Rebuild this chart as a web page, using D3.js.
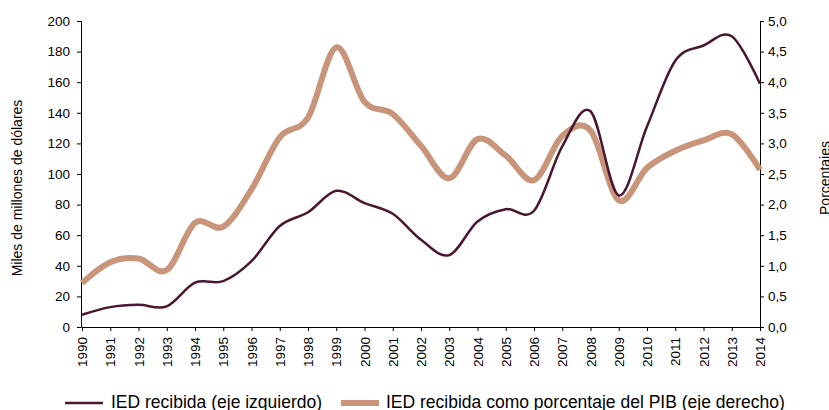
<!DOCTYPE html>
<html>
<head>
<meta charset="utf-8">
<script src="https://cdn.jsdelivr.net/npm/d3@7"></script>
<style>
  body { margin: 0; background: #fff; }
  svg { display: block; font-family: "Liberation Sans", Arial, sans-serif; }
</style>
</head>
<body>
<div id="chart"></div>
<script>
// data
const years = ["1990","1991","1992","1993","1994","1995","1996","1997","1998","1999","2000","2001","2002",
  "2003","2004","2005","2006","2007","2008","2009","2010","2011","2012","2013","2014"];
const iedLeft = [8, 13, 14.5, 13.5, 29, 30, 43, 66, 75, 89, 81, 74, 57, 47, 69, 77, 76, 118, 141, 86, 131, 174, 184, 190, 159];
const iedPct = [0.72, 1.06, 1.12, 0.93, 1.7, 1.64, 2.25, 3.1, 3.42, 4.57, 3.68, 3.48, 2.96, 2.43, 3.07, 2.8, 2.4, 3.12, 3.21, 2.07, 2.6, 2.88, 3.05, 3.15, 2.57];
const leftTicks = [0, 20, 40, 60, 80, 100, 120, 140, 160, 180, 200];
const rightTicks = [0, 0.5, 1, 1.5, 2, 2.5, 3, 3.5, 4, 4.5, 5];
const legendLabels = ["IED recibida (eje izquierdo)", "IED recibida como porcentaje del PIB (eje derecho)"];

const width = 829;
const height = 410;
const margin = { top: 21, right: 69, bottom: 83, left: 82 };
const darkColor = "#4b1631";
const lightColor = "#c8957b";

const svg = d3.select("#chart")
  .append("svg")
  .attr("width", width)
  .attr("height", height);

const x = d3.scalePoint()
  .domain(years)
  .range([margin.left, width - margin.right]);

const yLeft = d3.scaleLinear()
  .domain([0, 200])
  .range([height - margin.bottom, margin.top]);

const yRight = d3.scaleLinear()
  .domain([0, 5])
  .range([height - margin.bottom, margin.top]);

const fmt = d3.format(".1f");

// left axis
svg.append("g")
  .attr("transform", `translate(${margin.left - 1},0)`)
  .call(d3.axisLeft(yLeft).tickValues(leftTicks).tickSizeOuter(0).tickSize(4).tickPadding(7));

// right axis
svg.append("g")
  .attr("transform", `translate(${width - margin.right},0)`)
  .call(d3.axisRight(yRight).tickValues(rightTicks).tickSizeOuter(0).tickSize(4).tickPadding(4)
    .tickFormat(d => fmt(d).replace(".", ",")));

// x axis
const gx = svg.append("g")
  .attr("transform", `translate(0,${height - margin.bottom})`)
  .call(d3.axisBottom(x).tickSizeOuter(0).tickSize(4));
gx.selectAll("text")
  .attr("transform", "rotate(-90)")
  .attr("text-anchor", "end")
  .attr("x", -10)
  .attr("y", 0)
  .attr("dy", "0.35em");

svg.selectAll(".domain, .tick line").attr("stroke", "#000");
svg.selectAll(".tick text")
  .attr("font-size", 13.5)
  .attr("fill", "#000")
  .style("font-family", "Liberation Sans, Arial, sans-serif");

// axis titles
svg.append("text")
  .attr("transform", "translate(22,188) rotate(-90)")
  .attr("text-anchor", "middle")
  .attr("font-size", 14)
  .text("Miles de millones de dólares");

svg.append("text")
  .attr("transform", "translate(830,178) rotate(-90)")
  .attr("text-anchor", "middle")
  .attr("font-size", 14)
  .text("Porcentajes");

// lines
const lineLeft = d3.line()
  .x((d, i) => x(years[i]))
  .y(d => yLeft(d))
  .curve(d3.curveCatmullRom.alpha(0));

const lineRight = d3.line()
  .x((d, i) => x(years[i]))
  .y(d => yRight(d))
  .curve(d3.curveCatmullRom.alpha(0));

svg.append("path")
  .datum(iedPct)
  .attr("fill", "none")
  .attr("stroke", lightColor)
  .attr("stroke-width", 6)
  .attr("d", lineRight);

svg.append("path")
  .datum(iedLeft)
  .attr("fill", "none")
  .attr("stroke", darkColor)
  .attr("stroke-width", 2.5)
  .attr("d", lineLeft);

// legend
const legend = [
  { label: legendLabels[0], color: darkColor, w: 2.5, x1: 65, x2: 103, tx: 111 },
  { label: legendLabels[1], color: lightColor, w: 6, x1: 341, x2: 379, tx: 386 }
];
legend.forEach(l => {
  svg.append("line")
    .attr("x1", l.x1).attr("x2", l.x2)
    .attr("y1", 403).attr("y2", 403)
    .attr("stroke", l.color)
    .attr("stroke-width", l.w);
  svg.append("text")
    .attr("x", l.tx)
    .attr("y", 408)
    .attr("font-size", 17.5)
    .text(l.label);
});
</script>
</body>
</html>
